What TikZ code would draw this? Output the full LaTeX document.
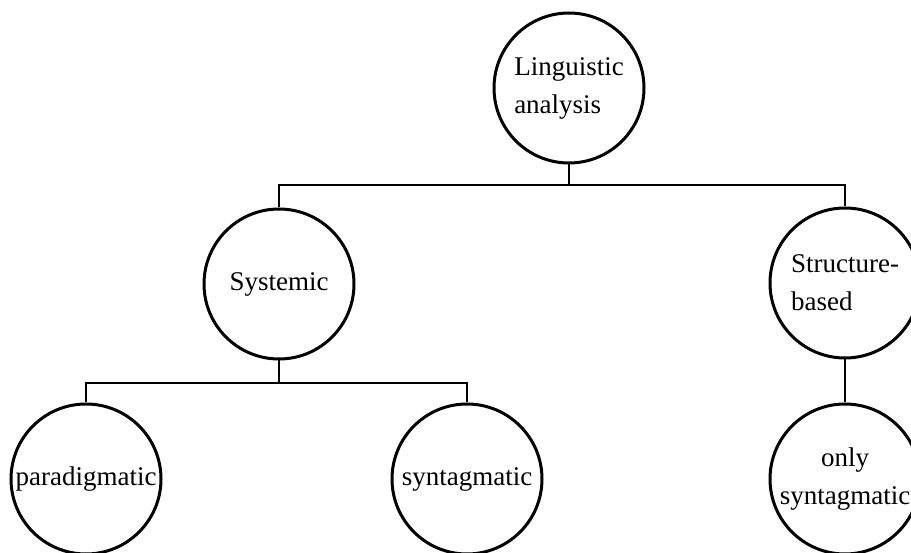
\documentclass[tikz,border=0pt]{standalone}
\usepackage{fontspec}
\setmainfont{Liberation Serif}
\begin{document}
\begin{tikzpicture}[x=1pt,y=-1pt,
  concept/.style={circle,draw=black,line width=3pt,fill=white,
    minimum size=150pt,inner sep=0pt,font=\fontsize{27}{38}\selectfont},
  link/.style={draw=black,line width=2pt}]
\useasboundingbox (0,0) rectangle (911,553);
\clip (0,0) rectangle (911,553);

% concept circles
\node[concept,align=left]   (la)  at (569,88)  {Linguistic\\analysis};
\node[concept]              (sys) at (279,284) {Systemic};
\node[concept,align=left]   (sb)  at (845,283) {Structure-\\based};
\node[concept]              (par) at (86,479)  {paradigmatic};
\node[concept]              (syn) at (467,479) {syntagmatic};
\node[concept,align=center] (os)  at (845,479) {only\\syntagmatic};

% bus lines of the tree
\coordinate (bus1) at (569,185);
\coordinate (bus2) at (279,383);

\draw[link] (la.south) -- (bus1);
\draw[link] (sys.north) -- (sys.north |- bus1) -- (sb.north |- bus1) -- (sb.north);
\draw[link] (sys.south) -- (bus2);
\draw[link] (par.north) -- (par.north |- bus2) -- (syn.north |- bus2) -- (syn.north);
\draw[link] (sb.south) -- (os.north);
\end{tikzpicture}
\end{document}
